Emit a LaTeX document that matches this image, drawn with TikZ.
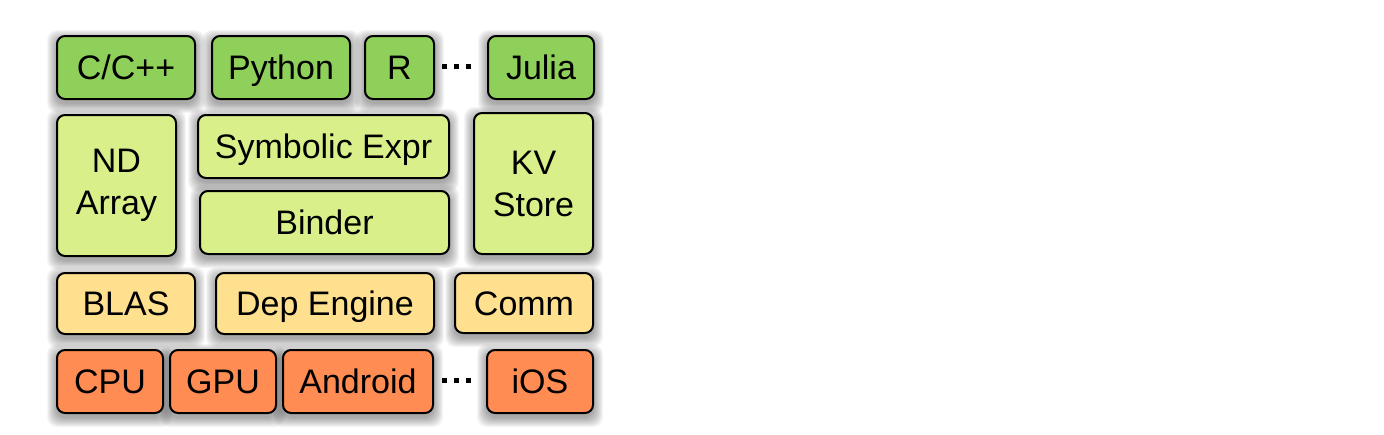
\documentclass[tikz,border=0pt]{standalone}
\usepackage{fontspec}
\setmainfont{Liberation Sans}
\definecolor{langc}{RGB}{143,208,90}
\definecolor{midc}{RGB}{217,240,138}
\definecolor{yelc}{RGB}{255,224,143}
\definecolor{orac}{RGB}{255,140,82}
\tikzset{
  blk/.style={draw=black, line width=2pt, rounded corners=8pt, inner sep=0pt, align=center,
    font=\fontsize{34}{40}\selectfont, text=black},
  oneline/.style={text height=24.4pt, text depth=0pt},
}
\newcommand{\blkshadow}[4]{%
  \foreach \i in {1,...,10}{
    \fill[black, opacity=0.04, rounded corners=10pt] (#1-\i,#2-\i+4) rectangle (#3+\i,#4+\i+4);
  }}
% \blk[extra]{name}{x1}{y1}{x2}{y2}{colour}{text}
\newcommand{\blk}[8][oneline]{%
  \node[blk, #1, fill=#7, minimum width={(#5-#3)*1pt}, minimum height={(#6-#4)*1pt}] (#2) at ({(#3+#5)/2},{(#4+#6)/2}) {#8};}
\begin{document}
\begin{tikzpicture}[x=1pt,y=-1pt]
\useasboundingbox (0,0) rectangle (1384,434);
% shadows
\blkshadow{57}{36}{195}{99}
\blkshadow{212}{36}{350}{99}
\blkshadow{365}{36}{434}{99}
\blkshadow{488}{36}{594}{99}
\blkshadow{57}{115}{176}{256}
\blkshadow{198}{115}{449}{178}
\blkshadow{200}{191}{449}{254}
\blkshadow{474}{113}{593}{254}
\blkshadow{57}{273}{195}{334}
\blkshadow{216}{273}{434}{334}
\blkshadow{455}{273}{593}{333}
\blkshadow{57}{350}{163}{413}
\blkshadow{170}{350}{276}{413}
\blkshadow{283}{350}{433}{413}
\blkshadow{487}{350}{593}{413}
% boxes
\blk{cpp}{57}{36}{195}{99}{langc}{C/C++}
\blk{python}{212}{36}{350}{99}{langc}{Python}
\blk{rlang}{365}{36}{434}{99}{langc}{R}
\blk{julia}{488}{36}{594}{99}{langc}{Julia}
\blk[]{ndarray}{57}{115}{176}{256}{midc}{ND\\[2pt]Array}
\blk{symexpr}{198}{115}{449}{178}{midc}{Symbolic Expr}
\blk{binder}{200}{191}{449}{254}{midc}{Binder}
\blk[]{kvstore}{474}{113}{593}{254}{midc}{KV\\[2pt]Store}
\blk{blas}{57}{273}{195}{334}{yelc}{BLAS}
\blk{depengine}{216}{273}{434}{334}{yelc}{Dep Engine}
\blk{comm}{455}{273}{593}{333}{yelc}{Comm}
\blk{cpu}{57}{350}{163}{413}{orac}{CPU}
\blk{gpu}{170}{350}{276}{413}{orac}{GPU}
\blk{android}{283}{350}{433}{413}{orac}{Android}
\blk{ios}{487}{350}{593}{413}{orac}{iOS}
% ellipsis dots
\foreach \dx in {0,12,24}{
  \fill[black] (442+\dx,64) rectangle (447+\dx,69);
  \fill[black] (442+\dx,378) rectangle (447+\dx,383);
}
\end{tikzpicture}
\end{document}
